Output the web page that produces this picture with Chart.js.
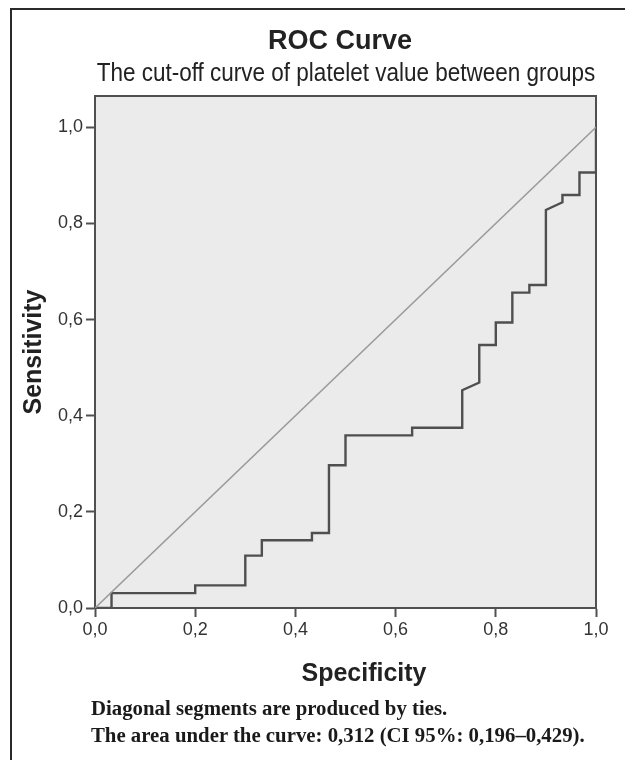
<!DOCTYPE html>
<html>
<head>
<meta charset="utf-8">
<script src="https://cdn.jsdelivr.net/npm/chart.js@4"></script>
<style>
  html, body { margin: 0; padding: 0; background: #fff; }
  #wrap { position: relative; width: 625px; height: 760px; overflow: hidden; }
  #frame { position: absolute; left: 10px; top: 8px; width: 700px; height: 800px;
           border-left: 2px solid #2a2a2a; border-top: 2px solid #2a2a2a; }
  canvas { position: absolute; left: 0; top: 0; }
  .txt { position: absolute; white-space: nowrap; line-height: 1; color: #222; }
  #title { font: bold 27px "Liberation Sans", Arial, sans-serif; left: 340px; top: 25px; transform: translateX(-50%); }
  #subtitle { font: 25px "Liberation Sans", Arial, sans-serif; left: 346px; top: 58px; transform: translateX(-50%) scaleX(0.9); }
  #xtitle { font: bold 25px "Liberation Sans", Arial, sans-serif; left: 364px; top: 658px; transform: translateX(-50%); }
  .note { font: bold 20.8px "Liberation Serif", "Times New Roman", serif; left: 91px; color: #1a1a1a; }
</style>
</head>
<body>
<div id="wrap">
  <div id="frame"></div>
  <canvas id="roc" width="625" height="760"></canvas>
  <div class="txt" id="title">ROC Curve</div>
  <div class="txt" id="subtitle">The cut-off curve of platelet value between groups</div>
  <div class="txt" id="xtitle">Specificity</div>
  <div class="txt note" style="top:696px">Diagonal segments are produced by ties.</div>
  <div class="txt note" style="top:723px">The area under the curve: 0,312 (CI 95%: 0,196–0,429).</div>
</div>
<script>
// ROC curve points (specificity axis, sensitivity)
const specificity = [0, 0.033, 0.033, 0.2, 0.2, 0.3, 0.3, 0.333, 0.333, 0.433, 0.433, 0.467, 0.467,
    0.5, 0.5, 0.633, 0.633, 0.733, 0.733, 0.767, 0.767, 0.8, 0.8, 0.833, 0.833, 0.867, 0.867,
    0.9, 0.9, 0.933, 0.933, 0.967, 0.967, 1, 1];
const sensitivity = [0, 0, 0.031, 0.031, 0.047, 0.047, 0.109, 0.109, 0.141, 0.141, 0.156, 0.156, 0.297,
    0.297, 0.359, 0.359, 0.375, 0.375, 0.453, 0.469, 0.547, 0.547, 0.594, 0.594, 0.656, 0.656, 0.672,
    0.672, 0.828, 0.844, 0.859, 0.859, 0.906, 0.906, 1];

// reference diagonal
const refX = [0, 1];
const refY = [0, 1];

const xTicks = [0, 0.2, 0.4, 0.6, 0.8, 1.0];
const yTicks = [0, 0.2, 0.4, 0.6, 0.8, 1.0];

function toPoints(xs, ys) {
    return xs.map((x, i) => ({ x: x, y: ys[i] }));
}

// comma decimals like the original
function fmt(v) {
    return v.toFixed(1).replace('.', ',');
}

// grey plot background + box
const plotBox = {
    id: 'plotBox',
    beforeDraw(chart) {
        const { ctx, chartArea: a } = chart;
        ctx.save();
        ctx.fillStyle = '#ebebeb';
        ctx.fillRect(a.left, a.top, a.right - a.left, a.bottom - a.top);
        ctx.strokeStyle = '#505050';
        ctx.lineWidth = 2;
        ctx.strokeRect(a.left, a.top, a.right - a.left, a.bottom - a.top);
        ctx.restore();
    }
};

const axisFont = { family: '"Liberation Sans", Arial, sans-serif', size: 18 };
const titleFont = { family: '"Liberation Sans", Arial, sans-serif', size: 25, weight: 'bold' };

new Chart(document.getElementById('roc'), {
    type: 'scatter',
    data: {
        datasets: [{
            label: 'Reference',
            data: toPoints(refX, refY),
            showLine: true,
            borderColor: '#9a9a9a',
            borderWidth: 1.6,
            pointRadius: 0
        }, {
            label: 'ROC',
            data: toPoints(specificity, sensitivity),
            showLine: true,
            borderColor: '#4f4f4f',
            borderWidth: 2.4,
            pointRadius: 0,
            tension: 0
        }]
    },
    options: {
        responsive: false,
        animation: false,
        layout: { padding: { left: 11, right: 29, top: 96, bottom: 77 } },
        plugins: {
            legend: { display: false },
            tooltip: { enabled: false }
        },
        scales: {
            x: {
                type: 'linear',
                min: 0,
                max: 1,
                afterBuildTicks: s => { s.ticks = xTicks.map(v => ({ value: v })); },
                afterFit: s => { s.height = 75; },
                grid: { drawOnChartArea: false, tickLength: 9, tickColor: '#505050', tickWidth: 2 },
                border: { color: '#505050', width: 2 },
                ticks: { font: axisFont, color: '#333', padding: 2, maxRotation: 0, callback: v => fmt(v) },
                title: { display: false }
            },
            y: {
                type: 'linear',
                min: 0,
                max: 1.065,
                afterBuildTicks: s => { s.ticks = yTicks.map(v => ({ value: v })); },
                afterFit: s => { s.width = 84; },
                grid: { drawOnChartArea: false, tickLength: 9, tickColor: '#505050', tickWidth: 2 },
                border: { color: '#505050', width: 2 },
                ticks: { font: axisFont, color: '#333', padding: 3, callback: v => fmt(v) },
                title: { display: true, text: 'Sensitivity', font: titleFont, color: '#222', padding: { top: 8, bottom: 0 } }
            }
        }
    },
    plugins: [plotBox]
});
</script>
</body>
</html>
